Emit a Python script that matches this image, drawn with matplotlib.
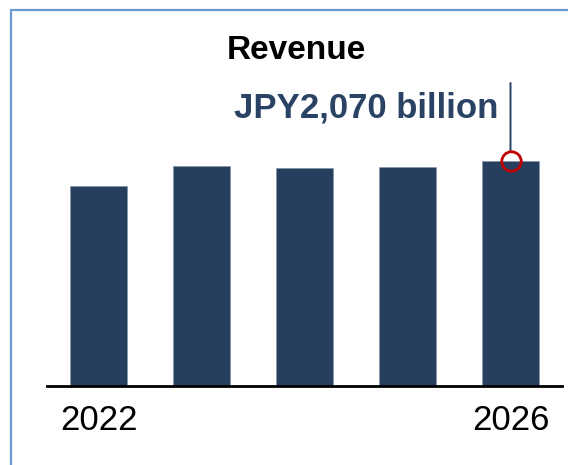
import matplotlib
matplotlib.use("Agg")
import matplotlib.pyplot as plt
from matplotlib.patches import Rectangle

# revenue per fiscal year, JPY billion (only 2026 is labelled, rest)
years = [2022, 2023, 2024, 2025, 2026]
revenue = [1840, 2025, 2005, 2015, 2070]
shown_ticks = [2022, 2026]
callout = "JPY2,070 billion"

BAR = "#273f5f"
W, H = 568, 465

plt.rcParams["font.family"] = ["Liberation Sans", "DejaVu Sans"]

fig = plt.figure(figsize=(W / 100, H / 100), dpi=100)

# light blue frame, runs off the right and bottom edges
fig.patches.append(Rectangle((10.5 / W, -0.1), 1.2, 1 - 10.5 / H + 0.1,
                             transform=fig.transFigure, fill=False,
                             edgecolor="#6a9ad4", linewidth=1.6))

# axes placed in pixels: x -0.5..4.5 spans 47..562, baseline at y=385
left, right, base = 47, 562, 385.5
ymax = 3000
px_per_unit = (base - 161) / revenue[-1]
top = base - ymax * px_per_unit
ax = fig.add_axes([left / W, (H - base) / H, (right - left) / W, (base - top) / H])

pos = list(range(len(years)))
ax.bar(pos, revenue, width=0.55, color=BAR, edgecolor="#8090a8", linewidth=0.4)
ax.set_xlim(-0.5, 4.5)
ax.set_ylim(0, ymax)

for s in ["top", "right", "left"]:
    ax.spines[s].set_visible(False)
ax.spines["bottom"].set_linewidth(2)
ax.spines["bottom"].set_color("black")
ax.set_yticks([])
ax.set_xticks([years.index(y) for y in shown_ticks])
ax.set_xticklabels([str(y) for y in shown_ticks], fontsize=25)
ax.tick_params(axis="x", length=0, pad=13)

# callout on the last bar
i = len(years) - 1
ax.plot([i], [revenue[i]], marker="o", markersize=14, markerfacecolor="none",
        markeredgecolor="#c00000", markeredgewidth=2, zorder=5)
ax.annotate("", xy=(i, revenue[i]), xytext=(0, 78), textcoords="offset pixels",
            arrowprops=dict(arrowstyle="-", color=BAR, lw=1.4, shrinkA=0, shrinkB=7.5),
            annotation_clip=False)
ax.annotate(callout, xy=(i, revenue[i]), xytext=(-12, 44), textcoords="offset pixels",
            ha="right", va="baseline", fontsize=25, fontweight="bold", color="#2a4364",
            annotation_clip=False)

fig.text(296 / W, 1 - 59 / H, "Revenue", ha="center", va="baseline",
         fontsize=24, fontweight="bold", color="black")

fig.savefig("out.png", dpi=100)
